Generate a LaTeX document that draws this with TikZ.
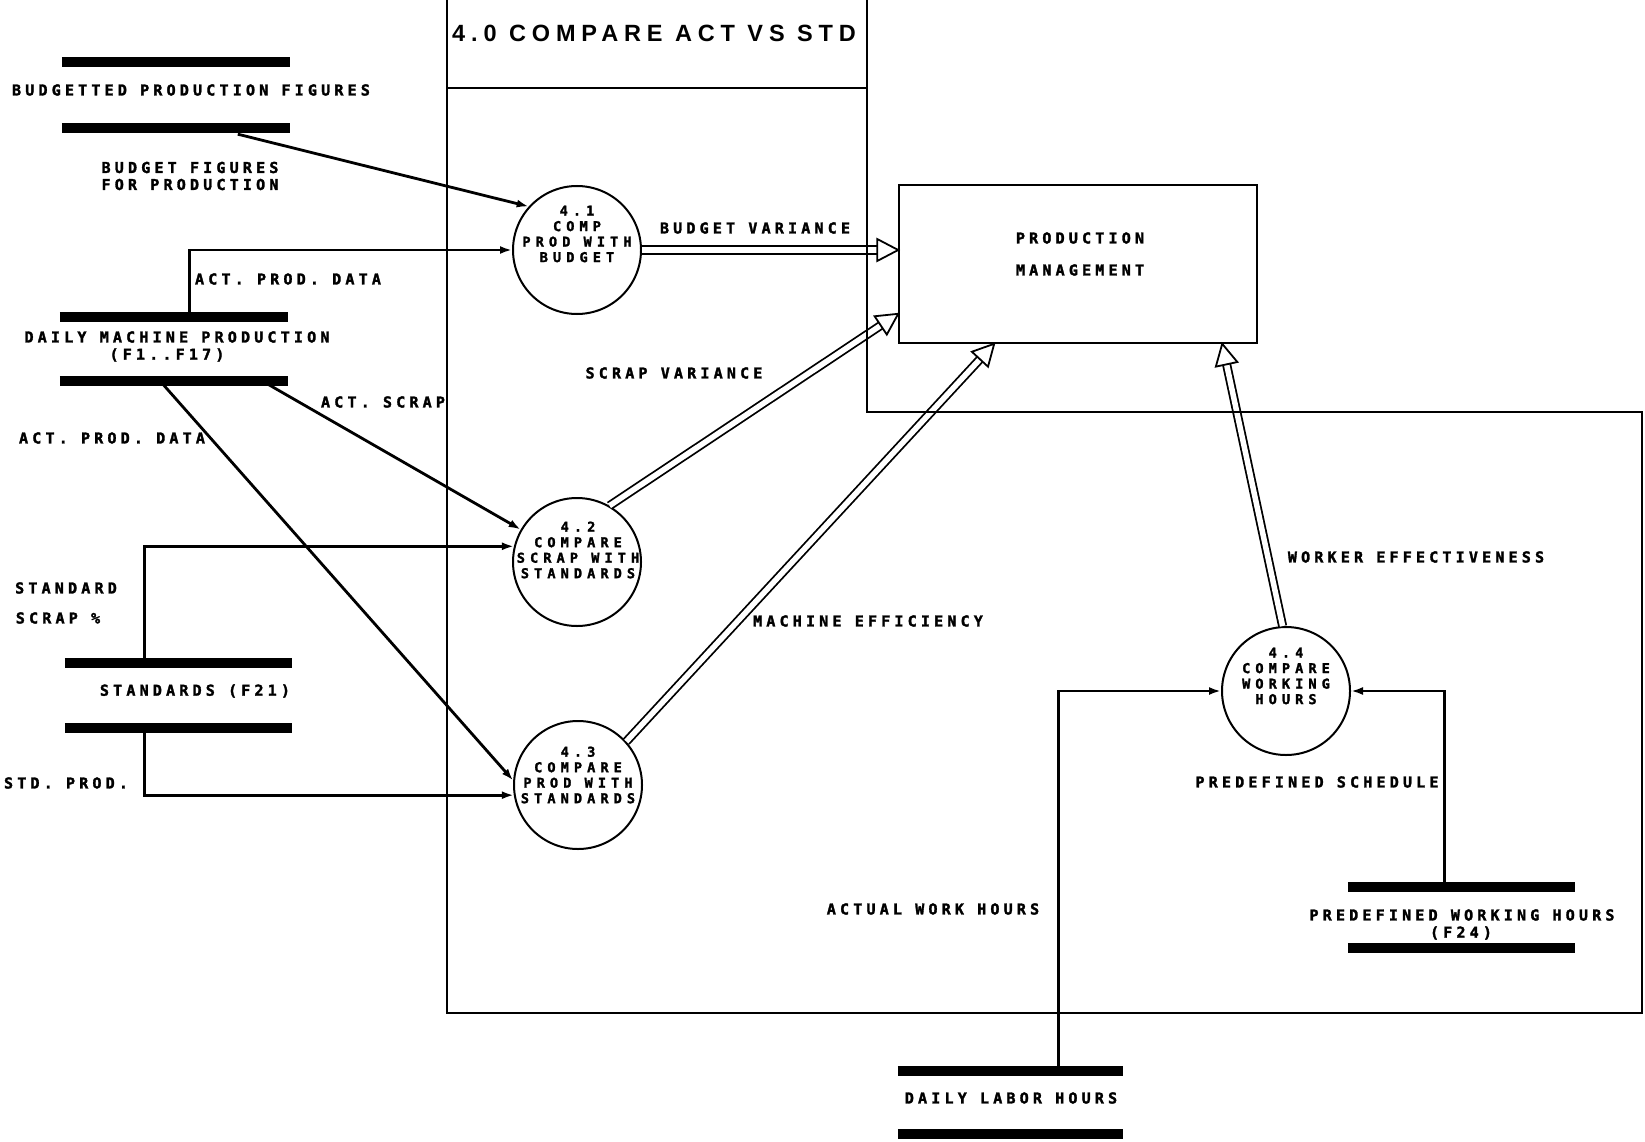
\documentclass[tikz,border=0pt]{standalone}
\usepackage{fontspec}
\usetikzlibrary{arrows.meta,calc}
\newfontfamily\dfdfont{DejaVu Sans Mono Bold}[LetterSpace=28, FakeBold=2]
\newfontfamily\dfdcirc{DejaVu Sans Mono Bold}[LetterSpace=38, FakeBold=2]
\newfontfamily\dfdtitle{Liberation Sans Bold}[LetterSpace=25]
\newcommand\dblflow[2]{%
  \coordinate (dbase) at ($(#2)!21pt!(#1)$);
  \draw[dbl] (#1) -- (dbase);
  \draw[openhead] (#2) -- ($(dbase)!11pt!90:(#2)$) -- ($(dbase)!11pt!-90:(#2)$) -- cycle;
}
\begin{document}
\begin{tikzpicture}[x=1pt,y=-1pt,
  lbl/.style={font=\dfdfont\fontsize{15}{17}\selectfont, inner sep=0pt, align=center},
  ctext/.style={font=\dfdcirc\fontsize{13.5}{15.5}\selectfont, inner sep=0pt, align=center},
  proc/.style={circle, draw, line width=2pt, minimum size=128pt, inner sep=0pt},
  ext/.style={draw, line width=1.6pt, minimum width=358pt, minimum height=158pt, inner sep=0pt},
  storebox/.style={inner sep=0pt},
  bar/.style={line width=10pt},
  flow/.style={line width=2.8pt, -{Latex[length=12pt,width=8pt]}},
  dbl/.style={double, double distance=5.5pt, line width=1.8pt},
  openhead/.style={line width=1.8pt, fill=white, line join=miter},
  bound/.style={line width=1.3pt}
]
\useasboundingbox (0,0) rectangle (1645,1142);
\fill[white] (0,0) rectangle (1645,1142);

% ---------- data stores ----------
\node[storebox, minimum width=228pt, minimum height=66pt] (bpf) at (176,95) {};
\draw[bar] (bpf.north west) -- (bpf.north east);
\draw[bar] (bpf.south west) -- (bpf.south east);
\node[lbl] (bpft) at (191,90) {BUDGETTED PRODUCTION FIGURES};

\node[storebox, minimum width=228pt, minimum height=63pt] (dmp) at (174,349) {};
\draw[bar] (dmp.north west) -- (dmp.north east);
\draw[bar] (dmp.south west) -- (dmp.south east);
\node[lbl] (dmpt1) at (177,337) {DAILY MACHINE PRODUCTION};
\node[lbl] (dmpt2) at (167,355) {(F1..F17)};

\node[storebox, minimum width=227pt, minimum height=65.5pt] (std) at (178.5,695.5) {};
\draw[bar] (std.north west) -- (std.north east);
\draw[bar] (std.south west) -- (std.south east);
\node[lbl] (stdt) at (195,691) {STANDARDS (F21)};

\node[storebox, minimum width=225pt, minimum height=62.5pt] (dlh) at (1010.5,1102.5) {};
\draw[bar] (dlh.north west) -- (dlh.north east);
\draw[bar] (dlh.south west) -- (dlh.south east);
\node[lbl] (dlht) at (1011,1098) {DAILY LABOR HOURS};

\node[storebox, minimum width=227pt, minimum height=61pt] (pwh) at (1461.5,917.5) {};
\draw[bar] (pwh.north west) -- (pwh.north east);
\draw[bar] (pwh.south west) -- (pwh.south east);
\node[lbl] (pwht1) at (1462,915) {PREDEFINED WORKING HOURS};
\node[lbl] (pwht2) at (1461,933) {(F24)};

% ---------- processes ----------
\node[proc] (c41) at (577,250) {};
\node[proc] (c42) at (577,562) {};
\node[proc] (c43) at (578,785) {};
\node[proc] (c44) at (1286,691) {};
\node[ctext] (c41t) at (577,234) {4.1\\COMP\\PROD WITH\\BUDGET};
\node[ctext] (c42t) at (578,550) {4.2\\COMPARE\\SCRAP WITH\\STANDARDS};
\node[ctext] (c43t) at (578,775) {4.3\\COMPARE\\PROD WITH\\STANDARDS};
\node[ctext] (c44t) at (1286,676) {4.4\\COMPARE\\WORKING\\HOURS};

% ---------- external entity ----------
\node[ext] (pm) at (1078,264) {};
\node[lbl] (pmt1) at (1080,238) {PRODUCTION};
\node[lbl] (pmt2) at (1080,270) {MANAGEMENT};

% ---------- connector end points ----------
\coordinate (bpfout) at ($(bpf.south west)+(176,6)$);
\coordinate (dmptop) at ($(dmp.north west)+(130,0)$);
\coordinate (dmpb1) at ($(dmp.south west)+(100,0)$);
\coordinate (dmpb2) at ($(dmp.south west)+(202,0)$);
\coordinate (stdtop) at ($(std.north west)+(80,0)$);
\coordinate (stdbot) at ($(std.south west)+(80,0)$);
\coordinate (dlhtop) at ($(dlh.north west)+(161,0)$);
\coordinate (pwhtop) at ($(pwh.north west)+(97,0)$);
\coordinate (bvtip) at (pm.west |- c41.east);
\coordinate (svtip) at ($(pm.south west)+(0,-30)$);
\coordinate (metip) at ($(pm.south west)+(96,0)$);
\coordinate (wetip) at ($(pm.south west)+(324,0)$);

% ---------- solid flows ----------
\draw[flow] (bpfout) -- (c41.138);
\draw[flow] (dmptop) |- (c41);
\draw[flow] (dmpb2) -- (c42.150);
\draw[flow] (dmpb1) -- (c43.176);
\draw[flow] (stdtop) |- (c42.166);
\draw[flow] (stdbot) |- (c43.189);
\draw[flow] (dlhtop) |- (c44);
\draw[flow] (pwhtop) |- (c44);

% ---------- double flows ----------
\dblflow{c41.east}{bvtip}
\dblflow{c42.60}{svtip}
\dblflow{c43.42}{metip}
\dblflow{c44.93}{wetip}

% ---------- labels ----------
\node[lbl] (l1) at (190,176) {BUDGET FIGURES\\FOR PRODUCTION};
\node[lbl] (l2) at (288,279) {ACT. PROD. DATA};
\node[lbl] (l3) at (112,438) {ACT. PROD. DATA};
\node[lbl] (l4) at (383,402) {ACT. SCRAP};
\node[lbl] (l5) at (755,228) {BUDGET VARIANCE};
\node[lbl] (l6) at (674,373) {SCRAP VARIANCE};
\node[lbl] (l7) at (868,621) {MACHINE EFFICIENCY};
\node[lbl] (l8) at (1416,557) {WORKER EFFECTIVENESS};
\node[lbl] (l9) at (1317,782) {PREDEFINED SCHEDULE};
\node[lbl] (l10) at (933,909) {ACTUAL WORK HOURS};
\node[lbl] (l11) at (66,588) {STANDARD};
\node[lbl] (l12) at (58,618) {SCRAP \%};
\node[lbl] (l13) at (66,783) {STD. PROD.};

% ---------- process 4.0 boundary ----------
\draw[bound] (447,0) -- (447,1013) -- (1642,1013) -- (1642,412) -- (867,412) -- (867,0);
\draw[line width=2.4pt] (447,88) -- (867,88);
\node[anchor=west, inner sep=0pt, font=\dfdtitle\fontsize{23.5}{28}\selectfont] (title) at (452,33) {4.0 COMPARE ACT VS STD};
\end{tikzpicture}
\end{document}
